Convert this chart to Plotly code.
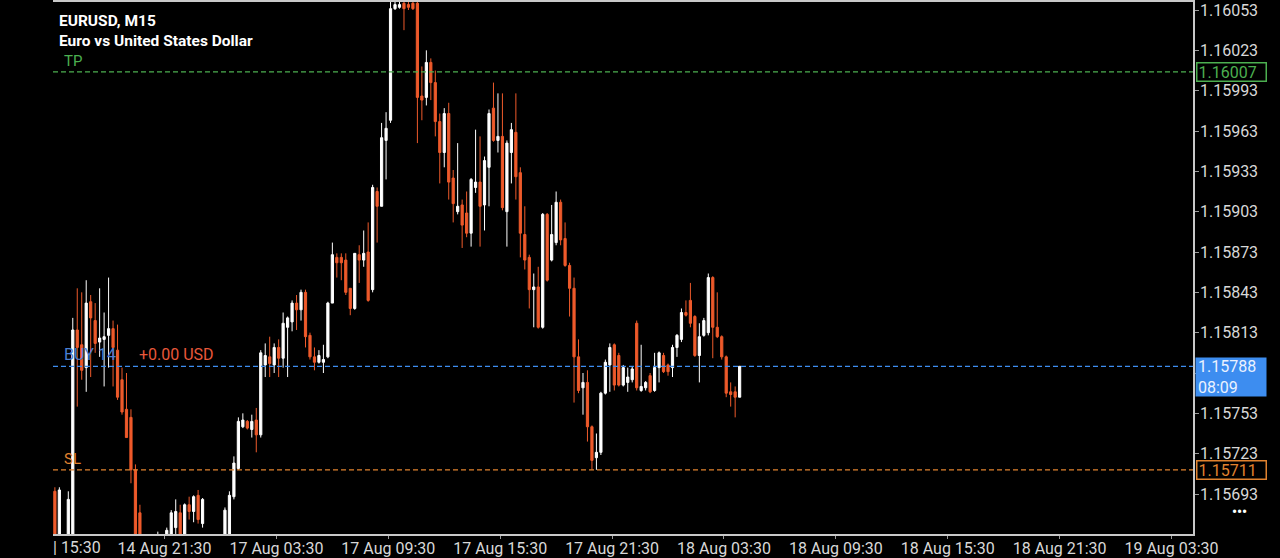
import plotly.graph_objects as go

# ---- data (EURUSD M15 candles, left to right) ----
open_ = [1.15695, 1.15659, 1.15659, 1.15655, 1.15655, 1.15815, 1.15804, 1.15787, 1.15836, 1.15822,
         1.15806, 1.15808, 1.15811, 1.15816, 1.15800, 1.15778, 1.15756, 1.15750, 1.15711, 1.15679,
         1.15648, 1.15651, 1.15646, 1.15651, 1.15659, 1.15655, 1.15655, 1.15668, 1.15679, 1.15659,
         1.15685, 1.15680, 1.15692, 1.15671, 1.15659, 1.15651, 1.15648, 1.15650, 1.15655, 1.15662,
         1.15691, 1.15712, 1.15743, 1.15747, 1.15741, 1.15748, 1.15737, 1.15789, 1.15795, 1.15789,
         1.15802, 1.15794, 1.15817, 1.15821, 1.15835, 1.15830, 1.15843, 1.15811, 1.15795, 1.15791,
         1.15791, 1.15795, 1.15835, 1.15869, 1.15869, 1.15867, 1.15846, 1.15831, 1.15871, 1.15867,
         1.15873, 1.15845, 1.15918, 1.15907, 1.15956, 1.15971, 1.16054, 1.16055, 1.16058, 1.16057,
         1.16058, 1.16058, 1.15989, 1.15988, 1.16014, 1.15999, 1.15970, 1.15947, 1.15976, 1.15928,
         1.15903, 1.15908, 1.15902, 1.15887, 1.15921, 1.15925, 1.15908, 1.15936, 1.15980, 1.15956,
         1.15959, 1.15903, 1.15947, 1.15962, 1.15932, 1.15886, 1.15869, 1.15845, 1.15847, 1.15817,
         1.15901, 1.15867, 1.15880, 1.15910, 1.15883, 1.15863, 1.15846, 1.15795, 1.15772, 1.15776,
         1.15743, 1.15720, 1.15724, 1.15768, 1.15789, 1.15804, 1.15796, 1.15774, 1.15776, 1.15778,
         1.15820, 1.15770, 1.15772, 1.15781, 1.15770, 1.15787, 1.15796, 1.15789, 1.15787, 1.15802,
         1.15808, 1.15828, 1.15837, 1.15825, 1.15796, 1.15811, 1.15813, 1.15854, 1.15817, 1.15810,
         1.15795, 1.15769, 1.15769, 1.15765]
high = [1.15698, 1.15698, 1.15662, 1.15695, 1.15824, 1.15846, 1.15843, 1.15852, 1.15841, 1.15835,
        1.15846, 1.15828, 1.15854, 1.15822, 1.15819, 1.15787, 1.15783, 1.15756, 1.15715, 1.15685,
        1.15659, 1.15658, 1.15655, 1.15665, 1.15660, 1.15668, 1.15681, 1.15689, 1.15685, 1.15686,
        1.15691, 1.15692, 1.15696, 1.15690, 1.15661, 1.15655, 1.15655, 1.15659, 1.15683, 1.15695,
        1.15721, 1.15750, 1.15753, 1.15748, 1.15752, 1.15757, 1.15800, 1.15805, 1.15810, 1.15805,
        1.15808, 1.15828, 1.15825, 1.15837, 1.15841, 1.15845, 1.15845, 1.15813, 1.15802, 1.15800,
        1.15804, 1.15836, 1.15880, 1.15872, 1.15872, 1.15872, 1.15846, 1.15872, 1.15878, 1.15889,
        1.15895, 1.15923, 1.15921, 1.15969, 1.15977, 1.16059, 1.16059, 1.16059, 1.16059, 1.16059,
        1.16059, 1.16059, 1.16011, 1.16023, 1.16017, 1.16008, 1.15976, 1.15980, 1.15984, 1.15934,
        1.15954, 1.15912, 1.15918, 1.15928, 1.15964, 1.15959, 1.15944, 1.15979, 1.15999, 1.15991,
        1.15991, 1.15956, 1.15969, 1.15991, 1.15936, 1.15907, 1.15871, 1.15857, 1.15862, 1.15902,
        1.15902, 1.15908, 1.15918, 1.15912, 1.15895, 1.15865, 1.15854, 1.15808, 1.15783, 1.15785,
        1.15744, 1.15738, 1.15769, 1.15793, 1.15805, 1.15805, 1.15798, 1.15789, 1.15787, 1.15788,
        1.15822, 1.15804, 1.15777, 1.15783, 1.15798, 1.15799, 1.15798, 1.15790, 1.15804, 1.15812,
        1.15831, 1.15837, 1.15850, 1.15826, 1.15820, 1.15824, 1.15857, 1.15855, 1.15843, 1.15811,
        1.15796, 1.15776, 1.15773, 1.15788]
low = [1.15655, 1.15655, 1.15648, 1.15653, 1.15653, 1.15758, 1.15778, 1.15769, 1.15780, 1.15798,
       1.15795, 1.15773, 1.15787, 1.15773, 1.15763, 1.15752, 1.15735, 1.15701, 1.15655, 1.15651,
       1.15644, 1.15640, 1.15642, 1.15648, 1.15648, 1.15651, 1.15653, 1.15659, 1.15655, 1.15655,
       1.15674, 1.15672, 1.15671, 1.15668, 1.15648, 1.15644, 1.15640, 1.15644, 1.15653, 1.15659,
       1.15689, 1.15711, 1.15742, 1.15741, 1.15735, 1.15724, 1.15735, 1.15780, 1.15780, 1.15783,
       1.15780, 1.15787, 1.15780, 1.15814, 1.15815, 1.15822, 1.15802, 1.15793, 1.15785, 1.15790,
       1.15783, 1.15794, 1.15835, 1.15854, 1.15852, 1.15841, 1.15826, 1.15830, 1.15850, 1.15862,
       1.15836, 1.15843, 1.15880, 1.15907, 1.15927, 1.15969, 1.16053, 1.16054, 1.16038, 1.16053,
       1.16053, 1.15954, 1.15971, 1.15982, 1.15986, 1.15959, 1.15924, 1.15936, 1.15912, 1.15895,
       1.15901, 1.15876, 1.15884, 1.15877, 1.15917, 1.15877, 1.15889, 1.15907, 1.15955, 1.15947,
       1.15904, 1.15877, 1.15924, 1.15912, 1.15869, 1.15860, 1.15831, 1.15817, 1.15816, 1.15816,
       1.15851, 1.15866, 1.15878, 1.15878, 1.15862, 1.15825, 1.15761, 1.15768, 1.15752, 1.15732,
       1.15711, 1.15711, 1.15722, 1.15767, 1.15769, 1.15770, 1.15773, 1.15773, 1.15769, 1.15776,
       1.15770, 1.15769, 1.15770, 1.15768, 1.15769, 1.15776, 1.15783, 1.15781, 1.15780, 1.15795,
       1.15806, 1.15825, 1.15817, 1.15795, 1.15776, 1.15810, 1.15811, 1.15794, 1.15809, 1.15793,
       1.15765, 1.15758, 1.15750, 1.15765]
close = [1.15659, 1.15696, 1.15651, 1.15689, 1.15815, 1.15802, 1.15785, 1.15835, 1.15824, 1.15805,
         1.15809, 1.15810, 1.15816, 1.15802, 1.15765, 1.15754, 1.15735, 1.15711, 1.15659, 1.15655,
         1.15653, 1.15646, 1.15651, 1.15659, 1.15653, 1.15666, 1.15679, 1.15680, 1.15659, 1.15685,
         1.15680, 1.15691, 1.15674, 1.15689, 1.15651, 1.15648, 1.15651, 1.15655, 1.15681, 1.15692,
         1.15716, 1.15747, 1.15748, 1.15742, 1.15747, 1.15737, 1.15798, 1.15796, 1.15790, 1.15802,
         1.15794, 1.15820, 1.15824, 1.15835, 1.15830, 1.15843, 1.15810, 1.15795, 1.15791, 1.15796,
         1.15793, 1.15835, 1.15871, 1.15865, 1.15865, 1.15843, 1.15831, 1.15872, 1.15867, 1.15872,
         1.15837, 1.15921, 1.15907, 1.15958, 1.15965, 1.16054, 1.16057, 1.16057, 1.16054, 1.16055,
         1.16054, 1.15988, 1.15986, 1.16014, 1.15999, 1.15970, 1.15947, 1.15976, 1.15925, 1.15909,
         1.15907, 1.15893, 1.15887, 1.15927, 1.15925, 1.15907, 1.15941, 1.15976, 1.15956, 1.15959,
         1.15906, 1.15954, 1.15964, 1.15929, 1.15887, 1.15867, 1.15845, 1.15847, 1.15817, 1.15901,
         1.15852, 1.15886, 1.15910, 1.15882, 1.15863, 1.15846, 1.15795, 1.15770, 1.15776, 1.15743,
         1.15718, 1.15724, 1.15768, 1.15791, 1.15802, 1.15774, 1.15774, 1.15787, 1.15780, 1.15786,
         1.15772, 1.15773, 1.15776, 1.15769, 1.15787, 1.15798, 1.15784, 1.15784, 1.15802, 1.15811,
         1.15828, 1.15826, 1.15820, 1.15796, 1.15810, 1.15822, 1.15854, 1.15817, 1.15810, 1.15795,
         1.15768, 1.15767, 1.15765, 1.15788]
bar_index = list(range(len(open_)))

time_labels = ["14 Aug 21:30", "17 Aug 03:30", "17 Aug 09:30", "17 Aug 15:30", "17 Aug 21:30",
               "18 Aug 03:30", "18 Aug 09:30", "18 Aug 15:30", "18 Aug 21:30", "19 Aug 03:30"]
first_label = "| 15:30"
bars_per_label = 25
price_ticks = [1.15693, 1.15723, 1.15753, 1.15783, 1.15813, 1.15843, 1.15873,
               1.15903, 1.15933, 1.15963, 1.15993, 1.16023, 1.16053]

tp_price = 1.16007
entry_price = 1.15788
sl_price = 1.15711
bar_timer = "08:09"
position_text = "BUY 14"
profit_text = "+0.00 USD"
symbol_text = "EURUSD, M15"
desc_text = "Euro vs United States Dollar"

# ---- styles ----
UP = "#FFFFFF"
DOWN = "#EE5A2B"
GREEN = "#4CAF50"
BLUE = "#3D8DF0"
SLC = "#E0822F"
AXC = "#C8C8C8"
TXT = "#D8D8D8"
FONT = "Roboto"

fig = go.Figure(go.Candlestick(
    x=bar_index, open=open_, high=high, low=low, close=close,
    increasing=dict(line=dict(color=UP, width=1), fillcolor=UP),
    decreasing=dict(line=dict(color=DOWN, width=1), fillcolor=DOWN),
    whiskerwidth=0, hoverinfo="skip",
))

tickvals = [bars_per_label * (k + 1) - 0.5 for k in range(len(time_labels))]

fig.update_layout(
    width=1280, height=558,
    paper_bgcolor="#000000", plot_bgcolor="#000000",
    margin=dict(l=53, r=87, t=2, b=24, autoexpand=False),
    showlegend=False,
    font=dict(family=FONT, color=TXT, size=16),
    xaxis=dict(
        range=[-0.42, 254.3], rangeslider=dict(visible=False), automargin=False,
        showgrid=False, zeroline=False,
        showline=True, linecolor=AXC, linewidth=1.5, mirror=True,
        ticks="outside", ticklen=3, tickcolor="#9A9A9A", tickwidth=1,
        tickvals=tickvals, ticktext=time_labels, ticklabelstandoff=-4,
        tickfont=dict(family=FONT, size=16, color=TXT),
    ),
    yaxis=dict(
        side="right", range=[1.1566325, 1.1605895], automargin=False,
        showgrid=False, zeroline=False,
        showline=True, linecolor=AXC, linewidth=1.5,
        ticks="outside", ticklen=4, tickcolor="#9A9A9A", tickwidth=1,
        tickvals=price_ticks, tickformat=".5f", ticklabelstandoff=-2,
        tickfont=dict(family=FONT, size=16, color=TXT),
    ),
)

for price, col in [(tp_price, GREEN), (entry_price, BLUE), (sl_price, SLC)]:
    fig.add_shape(type="line", xref="paper", x0=0, x1=1, yref="y", y0=price, y1=price,
                  line=dict(color=col, width=1.2, dash="5px,3px"), layer="above")

ann = []
ann.append(dict(text="<b>" + symbol_text + "</b>", xref="paper", yref="paper", x=0, y=1,
                xanchor="left", yanchor="middle", xshift=4, yshift=-19, showarrow=False,
                font=dict(family=FONT, size=15.5, color="#FFFFFF")))
ann.append(dict(text="<b>" + desc_text + "</b>", xref="paper", yref="paper", x=0, y=1,
                xanchor="left", yanchor="middle", xshift=4, yshift=-39, showarrow=False,
                font=dict(family=FONT, size=15.5, color="#FFFFFF")))
ann.append(dict(text="TP", xref="paper", yref="y", x=0, y=tp_price, xanchor="left",
                yanchor="bottom", xshift=9, yshift=0, showarrow=False,
                font=dict(family=FONT, size=15, color=GREEN)))
ann.append(dict(text=position_text, xref="paper", yref="y", x=0, y=entry_price, xanchor="left",
                yanchor="bottom", xshift=9, yshift=0, showarrow=False,
                font=dict(family=FONT, size=16, color="#4A7FD4")))
ann.append(dict(text=profit_text, xref="paper", yref="y", x=0, y=entry_price, xanchor="left",
                yanchor="bottom", xshift=84, yshift=0, showarrow=False,
                font=dict(family=FONT, size=16, color="#E8583A")))
ann.append(dict(text="SL", xref="paper", yref="y", x=0, y=sl_price, xanchor="left",
                yanchor="bottom", xshift=9, yshift=0, showarrow=False,
                font=dict(family=FONT, size=15, color=SLC)))
# right-hand price boxes
ann.append(dict(text=f"{tp_price:.5f}", xref="paper", yref="y", x=1, y=tp_price,
                xanchor="left", yanchor="middle", xshift=3, showarrow=False,
                width=66, height=15, align="left", borderpad=1,
                bordercolor=GREEN, borderwidth=1.5, bgcolor="#000000",
                font=dict(family=FONT, size=16, color=GREEN)))
ann.append(dict(text=f"{sl_price:.5f}", xref="paper", yref="y", x=1, y=sl_price,
                xanchor="left", yanchor="middle", xshift=3, showarrow=False,
                width=66, height=15, align="left", borderpad=1,
                bordercolor=SLC, borderwidth=1.5, bgcolor="#000000",
                font=dict(family=FONT, size=16, color=SLC)))
ann.append(dict(text=f"{entry_price:.5f}<br>{bar_timer}", xref="paper", yref="y", x=1, y=entry_price,
                xanchor="left", yanchor="top", xshift=2, yshift=9, showarrow=False,
                width=66, height=34, align="left", borderpad=2,
                bgcolor=BLUE, font=dict(family=FONT, size=16, color="#EAF2FF")))
# partial first time label and the menu dots
ann.append(dict(text=first_label, xref="paper", yref="paper", x=0, y=0, xanchor="left",
                yanchor="top", xshift=-2, yshift=-2, showarrow=False,
                font=dict(family=FONT, size=16, color=TXT)))
ann.append(dict(text="<b>•••</b>", xref="paper", yref="paper", x=1, y=0, xanchor="center",
                yanchor="middle", xshift=46, yshift=22, showarrow=False,
                font=dict(family=FONT, size=14, color="#FFFFFF")))
fig.update_layout(annotations=ann)

fig.write_html("out.html", config={"displayModeBar": False},
               post_script="document.body.style.margin='0';document.body.style.background='#000';")
